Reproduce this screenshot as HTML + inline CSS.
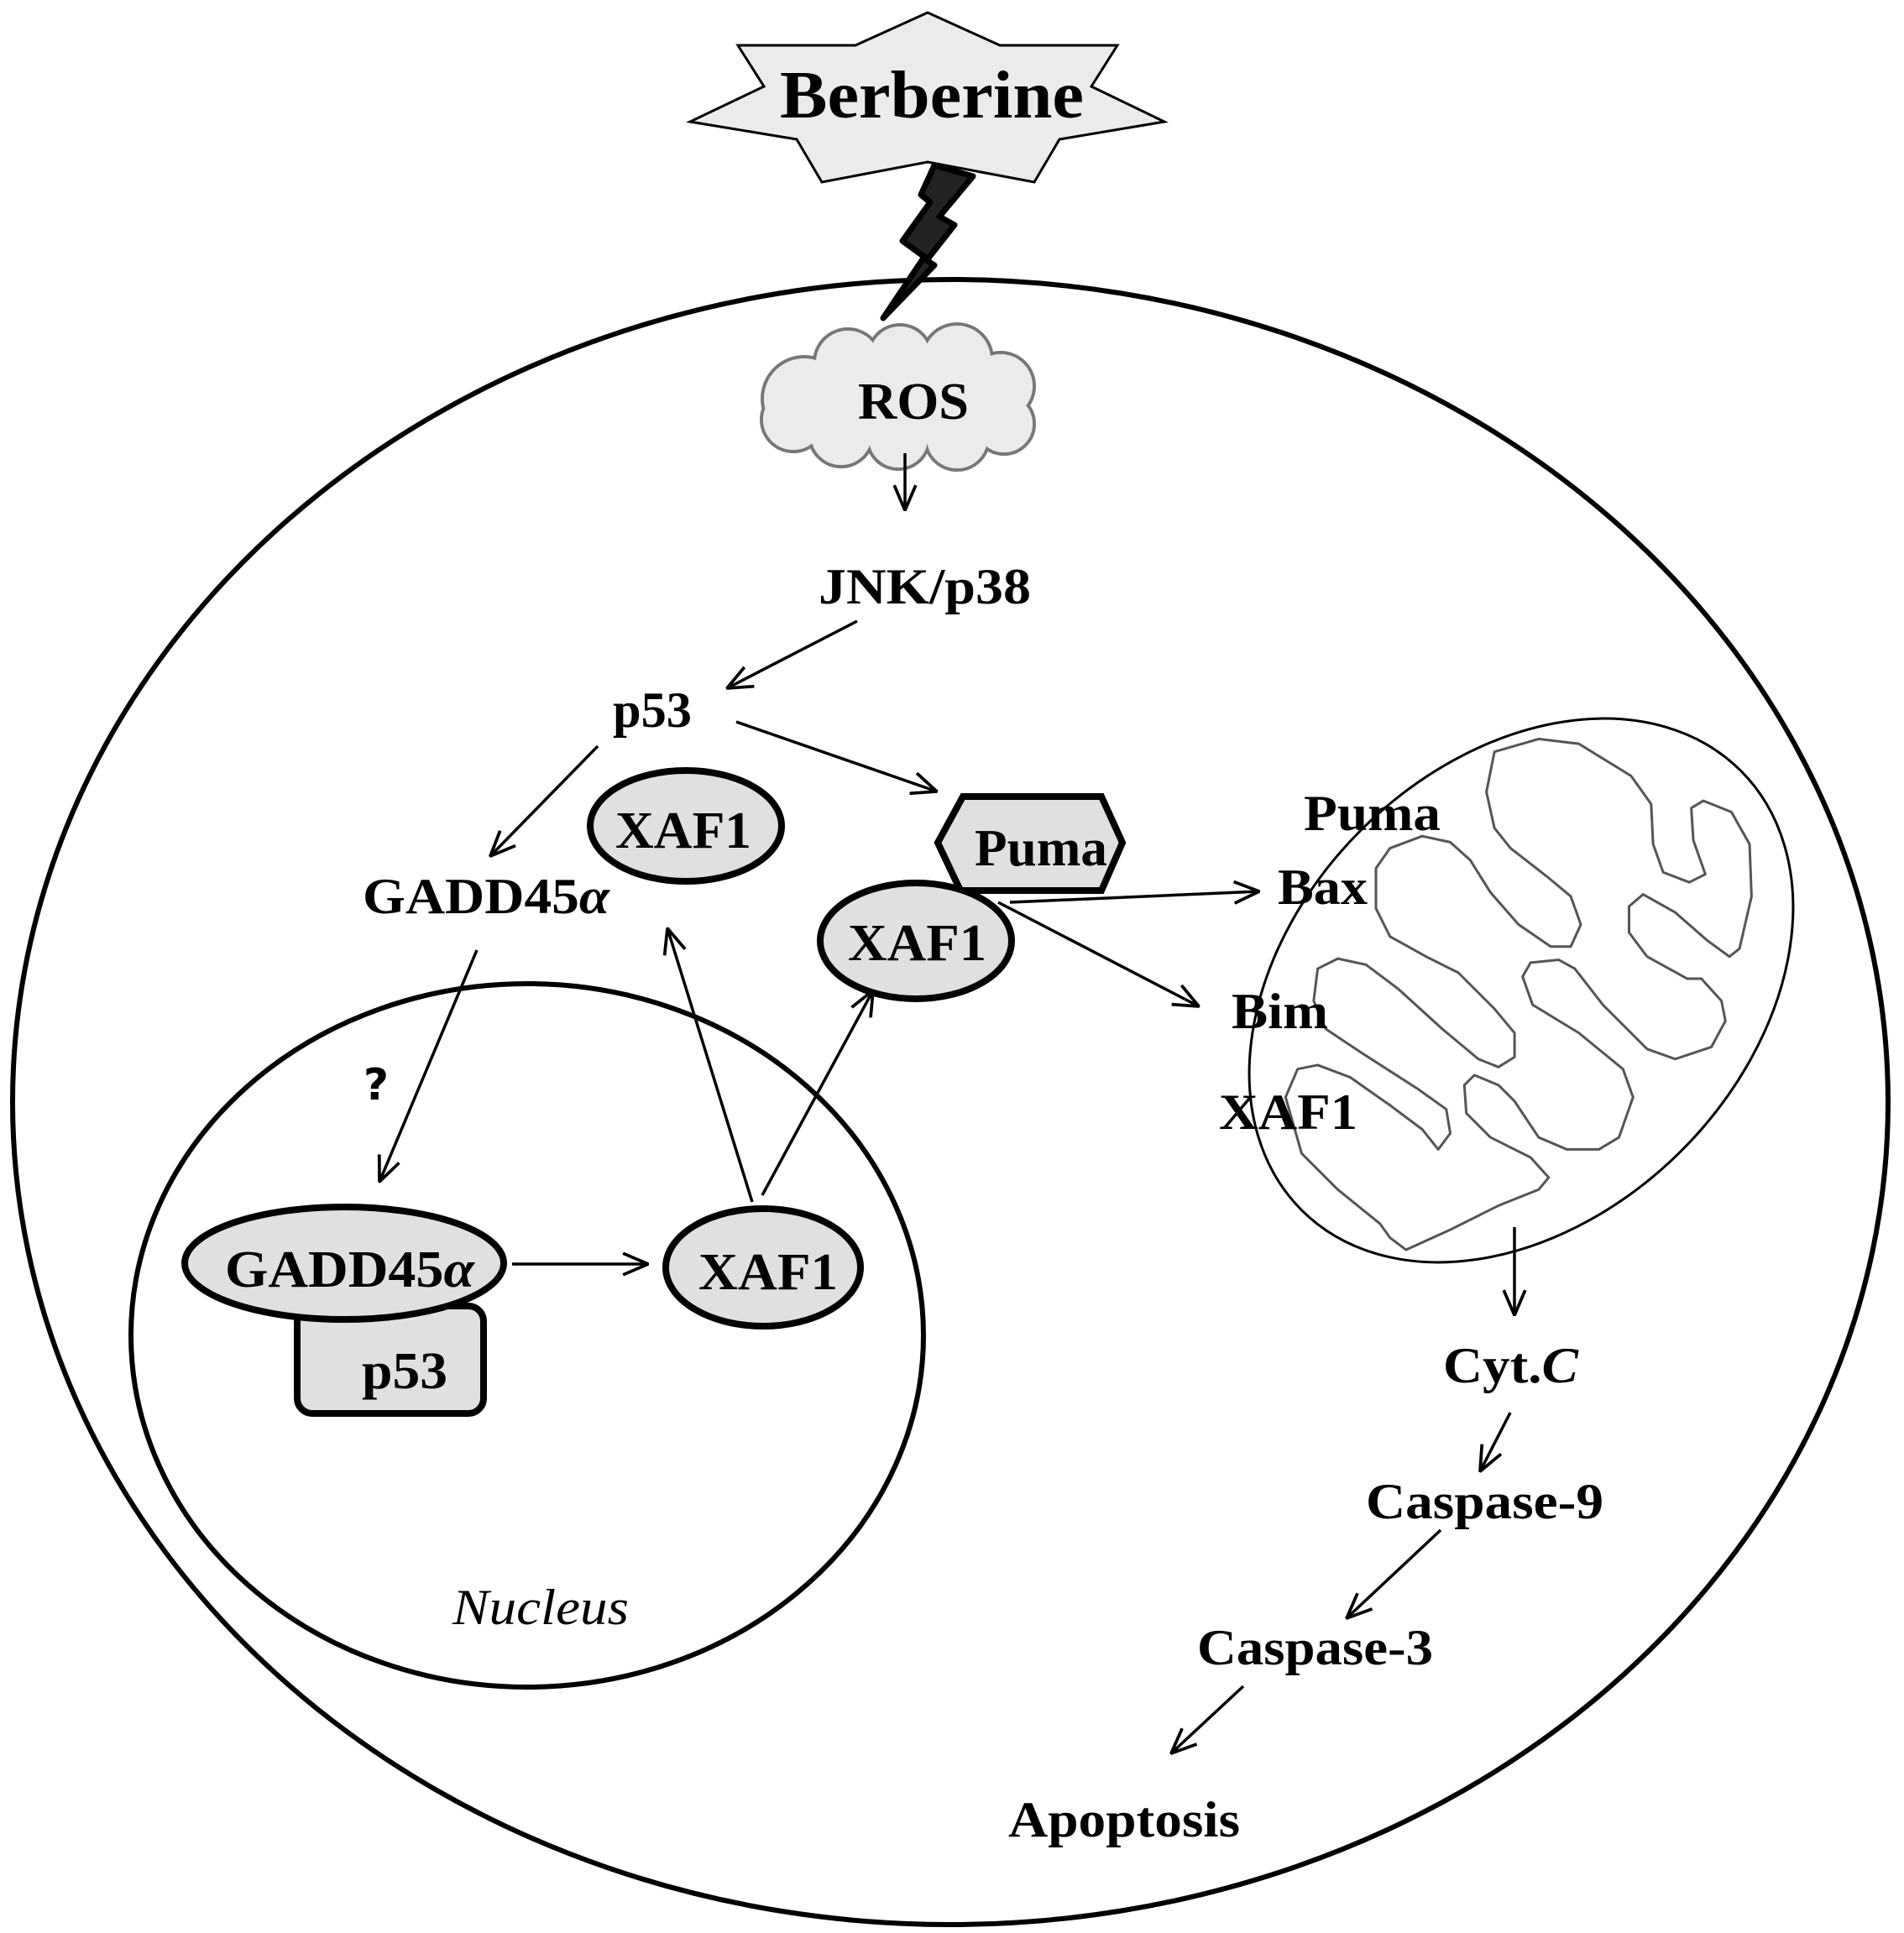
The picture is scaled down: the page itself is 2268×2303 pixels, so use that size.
<!DOCTYPE html>
<html><head><meta charset="utf-8"><style>html,body{margin:0;padding:0;background:#fff}svg{display:block}</style></head>
<body>
<svg xmlns="http://www.w3.org/2000/svg" width="2268" height="2303" viewBox="0 0 2268 2303">
<defs>
<marker id="ah" viewBox="0 0 30 30" refX="29" refY="15" markerWidth="32" markerHeight="32" markerUnits="userSpaceOnUse" orient="auto">
<path d="M1,3 L29,15 L1,27" fill="none" stroke="#000" stroke-width="3.5"/>
</marker>
</defs>
<rect width="2268" height="2303" fill="#fff"/>

<!-- cell -->
<ellipse cx="1132" cy="1313" rx="1117" ry="980" fill="none" stroke="#000" stroke-width="6"/>
<!-- nucleus -->
<ellipse cx="628" cy="1591" rx="472" ry="419" fill="none" stroke="#000" stroke-width="6"/>
<!-- mitochondrion -->
<ellipse cx="0" cy="0" rx="370" ry="270" transform="translate(1812,1180) rotate(-45)" fill="none" stroke="#000" stroke-width="3"/>
<g transform="translate(1450,800) scale(0.4785)">
<polygon fill="none" stroke="#555" stroke-width="3" vector-effect="non-scaling-stroke" stroke-linejoin="round" points="690,200 800,168 900,180 1030,260 1080,330 1085,430 1110,500 1175,525 1215,505 1185,420 1180,340 1210,322 1280,350 1325,430 1330,560 1300,690 1275,710 1220,670 1140,600 1060,555 1025,585 1025,650 1070,710 1170,765 1205,765 1255,820 1265,870 1230,935 1140,965 1070,940 960,830 890,740 850,718 780,725 760,760 785,830 900,900 1010,990 1035,1060 1000,1160 950,1190 870,1190 800,1160 740,1070 700,1030 640,1005 615,1030 620,1100 680,1160 780,1210 825,1260 800,1290 700,1330 580,1390 470,1440 430,1410 405,1375 300,1290 210,1200 170,1060 200,990 250,980 330,1010 430,1080 510,1140 550,1190 580,1150 570,1090 500,1040 360,950 270,890 240,820 250,740 300,715 370,730 450,790 560,890 650,965 700,985 740,960 740,900 690,840 600,750 520,710 430,660 395,590 395,490 430,440 510,410 580,425 630,470 680,550 750,630 830,685 880,685 905,630 880,560 820,510 730,440 690,390 670,300"/>
</g>

<!-- Berberine star -->
<polygon points="879,54 1019,54 1105,15 1191,54 1331,54 1300,103 1387,145 1262,166 1232,217 1105,193 979,217 949,166 822,145 910,103" fill="#ebebeb" stroke="#000" stroke-width="3"/>
<text x="1110" y="140" text-anchor="middle" font-family="Liberation Serif, serif" font-weight="bold" font-size="80" textLength="362" lengthAdjust="spacingAndGlyphs">Berberine</text>
<!-- lightning -->
<polygon points="1113,197 1097,232 1108,241 1075,287 1101,306 1052,379 1113,316 1104,310 1137,268 1119,258 1159,210" fill="#222" stroke="#000" stroke-width="7" stroke-linejoin="round"/>

<!-- ROS cloud -->
<g stroke="#777" stroke-width="4" fill="#ebebeb">
<circle cx="958" cy="475" r="50"/><circle cx="1010" cy="432" r="40"/><circle cx="1072" cy="425" r="38"/><circle cx="1140" cy="428" r="42"/><circle cx="1192" cy="460" r="40"/><circle cx="1196" cy="505" r="36"/><circle cx="1140" cy="522" r="38"/><circle cx="1070" cy="522" r="37"/><circle cx="1002" cy="518" r="38"/><circle cx="945" cy="500" r="38"/>
</g>
<g fill="#ebebeb">
<circle cx="958" cy="475" r="48"/><circle cx="1010" cy="432" r="38"/><circle cx="1072" cy="425" r="36"/><circle cx="1140" cy="428" r="40"/><circle cx="1192" cy="460" r="38"/><circle cx="1196" cy="505" r="34"/><circle cx="1140" cy="522" r="36"/><circle cx="1070" cy="522" r="35"/><circle cx="1002" cy="518" r="36"/><circle cx="945" cy="500" r="36"/><ellipse cx="1070" cy="475" rx="120" ry="55"/>
</g>
<text x="1088" y="499" text-anchor="middle" font-family="Liberation Serif, serif" font-weight="bold" font-size="62" textLength="132" lengthAdjust="spacingAndGlyphs">ROS</text>

<g font-family="Liberation Serif, serif" font-weight="bold" font-size="60" fill="#000">
<text x="975" y="719" textLength="253" lengthAdjust="spacingAndGlyphs">JNK/p38</text>
<text x="730" y="866" textLength="94" lengthAdjust="spacingAndGlyphs">p53</text>
<text x="432" y="1088" textLength="294" lengthAdjust="spacingAndGlyphs">GADD45<tspan font-style="italic">α</tspan></text>
<text x="1553" y="989" textLength="163" lengthAdjust="spacingAndGlyphs">Puma</text>
<text x="1522" y="1077" textLength="107" lengthAdjust="spacingAndGlyphs">Bax</text>
<text x="1467" y="1225" textLength="115" lengthAdjust="spacingAndGlyphs">Bim</text>
<text x="1452" y="1345" textLength="165" lengthAdjust="spacingAndGlyphs">XAF1</text>
<text x="1719" y="1647" textLength="161" lengthAdjust="spacingAndGlyphs">Cyt.<tspan font-style="italic">C</tspan></text>
<text x="1627" y="1809" textLength="283" lengthAdjust="spacingAndGlyphs">Caspase-9</text>
<text x="1426" y="1983" textLength="281" lengthAdjust="spacingAndGlyphs">Caspase-3</text>
<text x="1201" y="2188" textLength="276" lengthAdjust="spacingAndGlyphs">Apoptosis</text>
</g>
<text x="448" y="1310" text-anchor="middle" font-family="DejaVu Sans, sans-serif" font-weight="bold" font-size="52">?</text>
<text x="539" y="1935" font-family="Liberation Serif, serif" font-style="italic" font-size="60" textLength="210" lengthAdjust="spacingAndGlyphs">Nucleus</text>

<!-- Nodes -->
<g stroke="#000" stroke-width="8" fill="#e0e0e0">
<ellipse cx="817" cy="984" rx="114" ry="66"/>
<polygon points="1147,949 1312,949 1337,1004 1312,1061 1144,1061 1117,1004"/>
<ellipse cx="1091" cy="1121" rx="114" ry="69"/>
<rect x="354" y="1556" width="222" height="128" rx="18"/>
<ellipse cx="410" cy="1505" rx="190" ry="67"/>
<ellipse cx="909" cy="1510" rx="116" ry="70"/>
</g>
<g font-family="Liberation Serif, serif" font-weight="bold" font-size="62" fill="#000">
<text x="733" y="1010" textLength="162" lengthAdjust="spacingAndGlyphs">XAF1</text>
<text x="1161" y="1031" textLength="158" lengthAdjust="spacingAndGlyphs">Puma</text>
<text x="1010" y="1144" textLength="165" lengthAdjust="spacingAndGlyphs">XAF1</text>
<text x="268" y="1533" textLength="297" lengthAdjust="spacingAndGlyphs">GADD45<tspan font-style="italic">α</tspan></text>
<text x="431" y="1654" textLength="102" lengthAdjust="spacingAndGlyphs">p53</text>
<text x="832" y="1536" textLength="166" lengthAdjust="spacingAndGlyphs">XAF1</text>
</g>

<!-- Arrows -->
<g stroke="#000" stroke-width="3.5" fill="none" marker-end="url(#ah)">
<line x1="1078" y1="540" x2="1078" y2="608"/>
<line x1="1021" y1="740" x2="866" y2="820"/>
<line x1="877" y1="860" x2="1116" y2="943"/>
<line x1="712" y1="889" x2="584" y2="1020"/>
<line x1="1203" y1="1075" x2="1500" y2="1062"/>
<line x1="1189" y1="1075" x2="1428" y2="1199"/>
<line x1="568" y1="1132" x2="452" y2="1408"/>
<line x1="610" y1="1506" x2="772" y2="1506"/>
<line x1="896" y1="1432" x2="795" y2="1106"/>
<line x1="908" y1="1424" x2="1040" y2="1180"/>
<line x1="1804" y1="1462" x2="1804" y2="1567"/>
<line x1="1799" y1="1683" x2="1763" y2="1753"/>
<line x1="1716" y1="1823" x2="1604" y2="1928"/>
<line x1="1481" y1="2009" x2="1395" y2="2089"/>
</g>
</svg>
</body></html>
